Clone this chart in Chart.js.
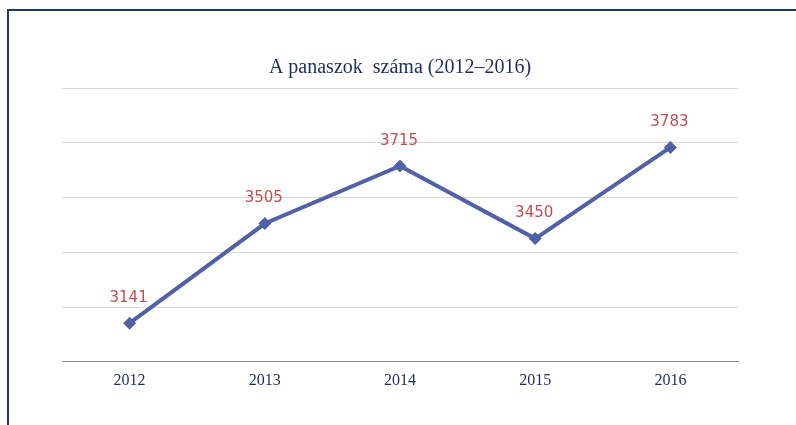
<!DOCTYPE html>
<html>
<head>
<meta charset="utf-8">
<script src="https://cdn.jsdelivr.net/npm/chart.js@4"></script>
<style>
  html, body { margin: 0; padding: 0; background: #ffffff; }
  #wrap { position: relative; width: 796px; height: 425px; overflow: hidden; }
  #frame { position: absolute; left: 7px; top: 9px; width: 900px; height: 500px;
           border-top: 2px solid #1d3a5c; border-left: 2px solid #1d3a5c; pointer-events: none; }
  canvas { position: absolute; left: 0; top: 0; }
</style>
</head>
<body>
<div id="wrap">
  <canvas id="c" width="796" height="425"></canvas>
  <div id="frame"></div>
</div>
<script>
const titleText = 'A panaszok  száma (2012–2016)';
const categories = ['2012', '2013', '2014', '2015', '2016'];
const complaints = [3141, 3505, 3715, 3450, 3783];
const yMin = 3000, yMax = 4000, yStep = 200;

const labelPlugin = {
  id: 'valueLabels',
  afterDatasetsDraw(chart) {
    const ctx = chart.ctx;
    const meta = chart.getDatasetMeta(0);
    ctx.save();
    ctx.font = '15px "DejaVu Sans", Verdana, sans-serif';
    ctx.fillStyle = '#c0504d';
    ctx.textAlign = 'center';
    ctx.textBaseline = 'middle';
    meta.data.forEach((pt, i) => {
      ctx.fillText(String(complaints[i]), pt.x - 1, pt.y - 25);
    });
    ctx.restore();
  }
};

new Chart(document.getElementById('c'), {
  type: 'line',
  data: {
    labels: categories,
    datasets: [{
      data: complaints,
      borderColor: '#5161a6',
      backgroundColor: '#5161a6',
      borderWidth: 4,
      pointStyle: 'rectRot',
      pointRadius: 6.5,
      pointBorderWidth: 0,
      tension: 0,
      fill: false
    }]
  },
  options: {
    responsive: false,
    animation: false,
    devicePixelRatio: 1,
    layout: { padding: { left: 62, right: 58, top: 0, bottom: 26 } },
    plugins: {
      legend: { display: false },
      tooltip: { enabled: false },
      title: {
        display: true,
        text: titleText,
        color: '#1f2d5c',
        font: { family: '"Liberation Serif", "Times New Roman", serif', size: 20, weight: 'normal' },
        padding: { top: 56, bottom: 8 }
      }
    },
    scales: {
      x: {
        offset: true,
        grid: { display: false, drawTicks: false },
        border: { display: true, color: '#8a8a8a', width: 1 },
        ticks: {
          color: '#1f2d5c',
          padding: 9,
          font: { family: '"Liberation Serif", "Times New Roman", serif', size: 16 }
        }
      },
      y: {
        min: yMin, max: yMax,
        ticks: { display: false, stepSize: yStep },
        grid: {
          drawTicks: false,
          color: (c) => (c.tick && c.tick.value === yMin) ? '#8a8a8a' : '#d9d9d9',
          lineWidth: 1
        },
        border: { display: false }
      }
    }
  },
  plugins: [labelPlugin]
});
</script>
</body>
</html>
